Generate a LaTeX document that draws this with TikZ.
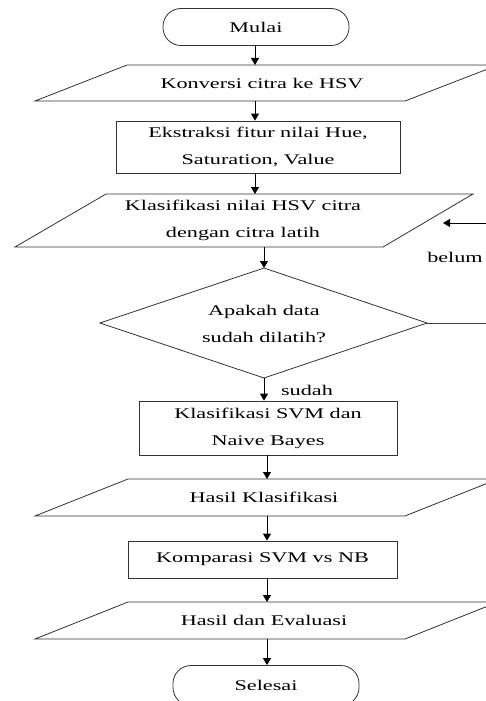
\documentclass[tikz,border=0pt]{standalone}
\usepackage{fontspec}
\setmainfont{Liberation Serif}[FakeStretch=1.5]
\usetikzlibrary{arrows.meta}
\begin{document}
\begin{tikzpicture}[x=1pt,y=-1pt,
  every node/.style={font=\fontsize{14.8}{27}\selectfont, inner sep=0pt, align=center, text=black},
  shapeline/.style={draw=black!80, line width=0.8pt},
  boxnode/.style={shapeline, rectangle},
  termnode/.style={shapeline, rectangle, rounded corners=18pt},
  arr/.style={draw=black, line width=0.9pt, -{Triangle[length=7pt,width=8pt]}},
  link/.style={draw=black!75, line width=0.8pt}]
\useasboundingbox (0,0) rectangle (486,701);
\clip (0,0) rectangle (486,701);
\fill[white] (0,0) rectangle (486,701);

% terminals and boxes
\node[termnode, minimum width=186pt, minimum height=37pt] (mulai) at (256,27) {Mulai};
\node[boxnode, minimum width=284pt, minimum height=52pt] (ekstraksi) at (258,147) {Ekstraksi fitur nilai Hue,\\Saturation, Value};
\node[boxnode, minimum width=258pt, minimum height=54pt] (svmnb) at (268,428) {Klasifikasi SVM dan\\Naive Bayes};
\node[boxnode, minimum width=269pt, minimum height=37pt] (komparasi) at (262.5,559.5) {Komparasi SVM vs NB};
\node[termnode, minimum width=186pt, minimum height=40pt] (selesai) at (266,685.5) {Selesai};

% parallelograms
\draw[shapeline] (127,65) -- (498,65) -- (405,101) -- (35,101) -- cycle;
\node (konversi) at (262,83) {Konversi citra ke HSV};
\coordinate (p1t) at (255,65);
\coordinate (p1b) at (255,101);

\draw[shapeline] (106,194) -- (473,194) -- (383,247) -- (15,247) -- cycle;
\node (klashsv) at (243,220.5) {Klasifikasi nilai HSV citra\\dengan citra latih};
\coordinate (p2t) at (255,194);
\coordinate (p2b) at (264,247);
\coordinate (p2in) at (443,223);

\draw[shapeline] (128,479) -- (498,479) -- (405,516) -- (35,516) -- cycle;
\node (hasilk) at (264,497) {Hasil Klasifikasi};
\coordinate (p3t) at (267,479);
\coordinate (p3b) at (267,516);

\draw[shapeline] (128,602) -- (498,602) -- (405,639) -- (35,639) -- cycle;
\node (hasile) at (264,620) {Hasil dan Evaluasi};
\coordinate (p4t) at (267,602);
\coordinate (p4b) at (267,639);

% decision
\coordinate (dt) at (264,268);
\coordinate (dl) at (100,323);
\coordinate (dr) at (427,323);
\coordinate (db) at (264,378);
\draw[shapeline] (dt) -- (dr) -- (db) -- (dl) -- cycle;
\node (tanya) at (264,323.5) {Apakah data\\sudah dilatih?};

% loop corners (outside the visible area)
\coordinate (loopa) at (500,323);
\coordinate (loopb) at (500,223);

% connectors
\draw[arr] (255,45) -- (p1t);
\draw[arr] (p1b) -- (ekstraksi.north -| p1b);
\draw[arr] (ekstraksi.south -| p2t) -- (p2t);
\draw[arr] (p2b) -- (dt);
\draw[arr] (db) -- (svmnb.north -| db);
\draw[arr] (svmnb.south -| p3t) -- (p3t);
\draw[arr] (p3b) -- (komparasi.north -| p3b);
\draw[arr] (komparasi.south -| p4t) -- (p4t);
\draw[arr] (p4b) -- (selesai.north -| p4b);
\draw[link] (dr) -- (loopa) -- (loopb);
\draw[arr] (loopb) -- (p2in);

% labels
\node (belum) at (455,257) {belum};
\node (sudah) at (307,390) {sudah};
\end{tikzpicture}
\end{document}
